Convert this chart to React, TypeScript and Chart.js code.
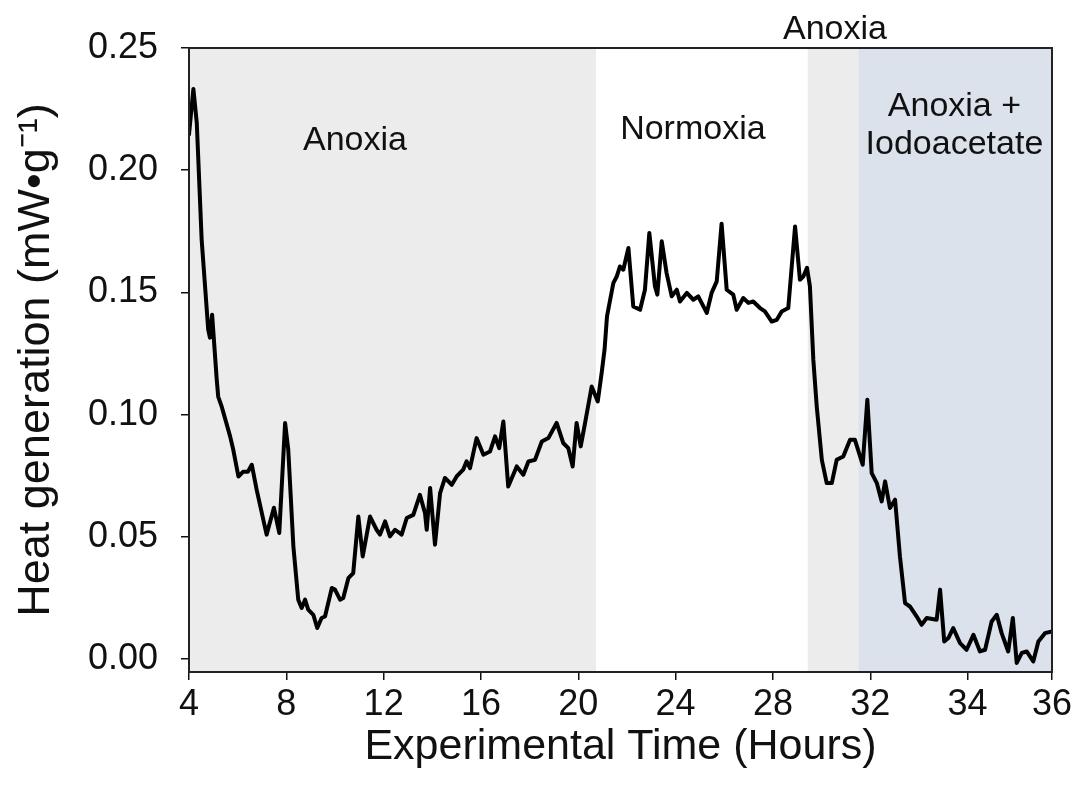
import React, { useEffect, useRef } from 'react';
import { Chart, registerables } from 'chart.js';

Chart.register(...registerables);

// Time on the plotted (linear) axis, and heat generation in mW·g⁻¹
const time = [
  4.00, 4.18, 4.32, 4.52, 4.79, 4.86, 4.95, 5.14, 5.20, 5.34, 5.69, 5.82, 6.03, 6.22, 6.42, 6.58, 6.78, 7.19, 7.49, 7.71,
  7.95, 8.08, 8.29, 8.49, 8.63, 8.77, 8.90, 9.11, 9.27, 9.45, 9.59, 9.87, 10.00, 10.21, 10.34, 10.55, 10.75, 10.96, 11.14, 11.44,
  11.71, 11.85, 12.06, 12.26, 12.47, 12.74, 12.95, 13.22, 13.49, 13.70, 13.77, 13.91, 14.11, 14.32, 14.52, 14.80, 15.00, 15.27, 15.41, 15.55,
  15.82, 16.10, 16.37, 16.58, 16.75, 16.92, 17.12, 17.47, 17.74, 17.95, 18.22, 18.50, 18.77, 19.11, 19.38, 19.59, 19.77, 19.93, 20.10, 20.28,
  20.55, 20.80, 20.96, 21.08, 21.18, 21.44, 21.58, 21.71, 21.85, 22.06, 22.26, 22.54, 22.74, 22.92, 23.15, 23.25, 23.43, 23.63, 23.84, 24.05,
  24.18, 24.46, 24.73, 24.93, 25.28, 25.48, 25.69, 25.89, 26.10, 26.37, 26.51, 26.78, 26.99, 27.19, 27.47, 27.67, 27.95, 28.16, 28.36, 28.63,
  28.91, 29.11, 29.25, 29.40, 29.52, 29.66, 29.80, 30.01, 30.21, 30.42, 30.62, 30.89, 31.17, 31.37, 31.69, 31.88, 32.06, 32.27, 32.47, 32.61,
  32.81, 33.02, 33.22, 33.43, 33.63, 33.91, 34.11, 34.32, 34.73, 34.87, 35.04, 35.21, 35.41, 35.69, 35.96, 36.24, 36.51, 36.72, 36.99, 37.20,
  37.40, 37.67, 37.86, 38.02, 38.23, 38.43, 38.70, 38.91, 39.18, 39.47,
];

const heat = [
  0.2146, 0.2332, 0.2193, 0.1716, 0.1348, 0.1315, 0.1409, 0.1143, 0.1074, 0.1034, 0.0911, 0.0856, 0.0747, 0.0766, 0.0766, 0.0795, 0.0693, 0.0509, 0.0619, 0.0516,
  0.0966, 0.0856, 0.0461, 0.0243, 0.0209, 0.0243, 0.0202, 0.0181, 0.0127, 0.0168, 0.0174, 0.0291, 0.0284, 0.0243, 0.0250, 0.0331, 0.0352, 0.0583, 0.0420, 0.0583,
  0.0529, 0.0509, 0.0563, 0.0502, 0.0529, 0.0509, 0.0577, 0.0590, 0.0672, 0.0597, 0.0529, 0.0700, 0.0468, 0.0679, 0.0741, 0.0713, 0.0747, 0.0775, 0.0809, 0.0781,
  0.0904, 0.0836, 0.0849, 0.0911, 0.0863, 0.0972, 0.0706, 0.0788, 0.0754, 0.0808, 0.0815, 0.0890, 0.0904, 0.0966, 0.0884, 0.0863, 0.0788, 0.0966, 0.0870, 0.0966,
  0.1115, 0.1054, 0.1170, 0.1266, 0.1402, 0.1538, 0.1565, 0.1606, 0.1593, 0.1682, 0.1443, 0.1429, 0.1511, 0.1743, 0.1525, 0.1491, 0.1709, 0.1579, 0.1484, 0.1511,
  0.1463, 0.1498, 0.1470, 0.1484, 0.1416, 0.1498, 0.1545, 0.1781, 0.1511, 0.1491, 0.1429, 0.1477, 0.1457, 0.1463, 0.1436, 0.1422, 0.1381, 0.1388, 0.1422, 0.1436,
  0.1770, 0.1552, 0.1565, 0.1601, 0.1525, 0.1225, 0.1034, 0.0815, 0.0720, 0.0720, 0.0815, 0.0829, 0.0897, 0.0897, 0.0795, 0.1061, 0.0761, 0.0720, 0.0645, 0.0727,
  0.0618, 0.0652, 0.0420, 0.0229, 0.0215, 0.0174, 0.0140, 0.0168, 0.0161, 0.0284, 0.0072, 0.0086, 0.0127, 0.0065, 0.0038, 0.0099, 0.0031, 0.0038, 0.0154, 0.0181,
  0.0106, 0.0031, 0.0168, -0.0016, 0.0025, 0.0031, -0.0010, 0.0072, 0.0106, 0.0113,
];

// x-axis ticks (positions on the plotted axis) and their printed labels
const xTickValues = [4, 8, 12, 16, 20, 24, 28, 32, 36, 39.47];
const xTickLabels = ['4', '8', '12', '16', '20', '24', '28', '32', '34', '36'];
const yTickValues = [0, 0.05, 0.10, 0.15, 0.20, 0.25];

// Treatment phases
const phaseStart = [4, 20.73, 29.43, 31.51];
const phaseEnd = [20.73, 29.43, 31.51, 39.47];
const phaseColors = ['#ececec', '#ffffff', '#ececec', '#dbe2eb'];

// Phase labels
const phaseLabelText = ['Anoxia', 'Normoxia', 'Anoxia', 'Anoxia +', 'Iodoacetate'];
const phaseLabelX = [10.82, 24.71, 30.55, 35.46, 35.46];
const phaseLabelY = [0.2084, 0.2128, 0.2537, 0.2223, 0.2068];

const FONT = '"Liberation Sans", Arial, Helvetica, sans-serif';
const INK = '#111111';

export default function App() {
  const ref = useRef<HTMLCanvasElement | null>(null);

  useEffect(() => {
    if (!ref.current) return;

    const phasePlugin = {
      id: 'phases',
      beforeDatasetsDraw(chart: any) {
        const { ctx, chartArea, scales } = chart;
        const x = scales.x;
        ctx.save();
        phaseStart.forEach((s, i) => {
          const x0 = x.getPixelForValue(s);
          const x1 = x.getPixelForValue(phaseEnd[i]);
          ctx.fillStyle = phaseColors[i];
          ctx.fillRect(x0, chartArea.top, x1 - x0, chartArea.bottom - chartArea.top);
        });
        ctx.restore();
      },
      afterDatasetsDraw(chart: any) {
        const { ctx, chartArea, scales } = chart;
        const x = scales.x;
        const y = scales.y;
        ctx.save();
        ctx.strokeStyle = '#222222';
        ctx.lineWidth = 2;
        ctx.strokeRect(chartArea.left, chartArea.top, chartArea.right - chartArea.left, chartArea.bottom - chartArea.top);
        ctx.fillStyle = INK;
        ctx.font = `34px ${FONT}`;
        ctx.textAlign = 'center';
        ctx.textBaseline = 'alphabetic';
        phaseLabelText.forEach((t, i) => {
          ctx.fillText(t, x.getPixelForValue(phaseLabelX[i]), y.getPixelForValue(phaseLabelY[i]));
        });
        ctx.restore();
      },
    };

    const chart = new Chart(ref.current, {
      type: 'line',
      data: {
        datasets: [
          {
            label: 'Heat generation',
            data: time.map((t, i) => ({ x: t, y: heat[i] })),
            borderColor: '#000000',
            borderWidth: 4,
            borderJoinStyle: 'round',
            borderCapStyle: 'round',
            pointRadius: 0,
            tension: 0,
            fill: false,
          },
        ],
      },
      options: {
        animation: false,
        responsive: true,
        maintainAspectRatio: false,
        layout: { padding: { left: 0, right: 25, top: 48, bottom: 0 } },
        plugins: {
          legend: { display: false },
          tooltip: { enabled: false },
        },
        scales: {
          x: {
            type: 'linear',
            min: 4,
            max: 39.47,
            afterBuildTicks: (scale: any) => {
              scale.ticks = xTickValues.map((value) => ({ value }));
            },
            afterFit: (scale: any) => {
              scale.height = 120;
            },
            ticks: {
              autoSkip: false,
              maxRotation: 0,
              minRotation: 0,
              padding: 3,
              color: INK,
              font: { family: FONT, size: 36 },
              callback: (_v: any, index: number) => xTickLabels[index],
            },
            grid: {
              display: true,
              drawOnChartArea: false,
              drawTicks: true,
              tickLength: 8,
              color: INK,
              lineWidth: 1.5,
            },
            border: { display: false },
            title: {
              display: true,
              text: 'Experimental Time (Hours)',
              color: INK,
              font: { family: FONT, size: 43 },
              padding: { top: 0, bottom: 19 },
            },
          },
          y: {
            type: 'linear',
            min: -0.0053,
            max: 0.25,
            afterBuildTicks: (scale: any) => {
              scale.ticks = yTickValues.map((value) => ({ value }));
            },
            afterFit: (scale: any) => {
              scale.width = 189;
            },
            ticks: {
              padding: 23,
              color: INK,
              font: { family: FONT, size: 36 },
              callback: (v: any) => Number(v).toFixed(2),
            },
            grid: {
              display: true,
              drawOnChartArea: false,
              drawTicks: true,
              tickLength: 8,
              color: INK,
              lineWidth: 1.5,
            },
            border: { display: false },
            title: {
              display: true,
              text: 'Heat generation (mW•g⁻¹)',
              color: INK,
              font: { family: FONT, size: 45 },
              padding: { top: 10, bottom: 0 },
            },
          },
        },
      },
      plugins: [phasePlugin],
    } as any);

    return () => chart.destroy();
  }, []);

  return (
    <div style={{ position: 'absolute', left: 0, top: 0, width: 1077, height: 792, background: '#ffffff' }}>
      <canvas ref={ref} />
    </div>
  );
}
